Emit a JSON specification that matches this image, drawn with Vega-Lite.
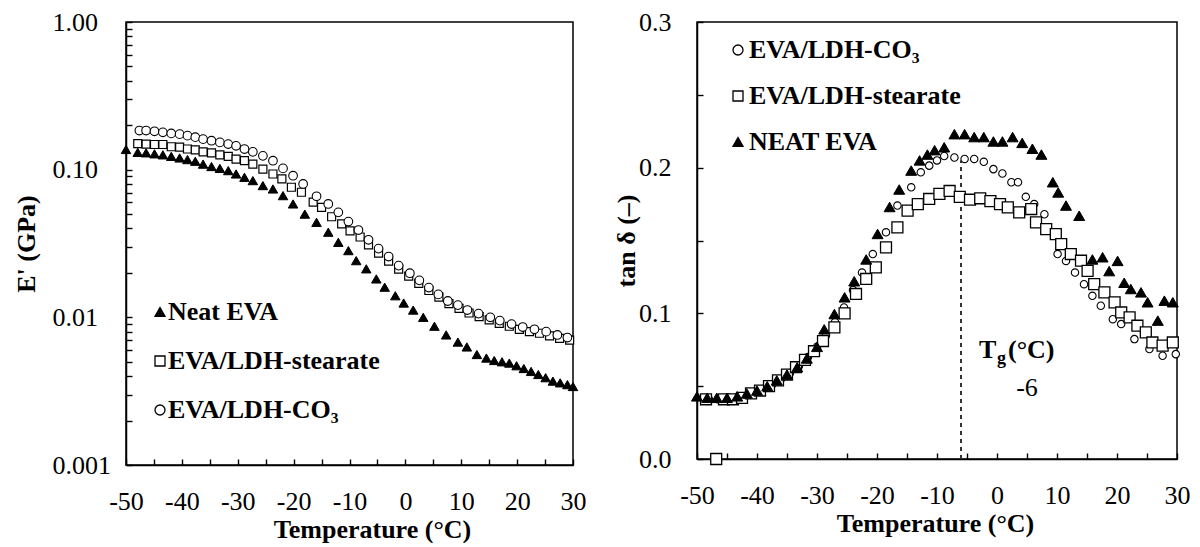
{
  "$schema": "https://vega.github.io/schema/vega-lite/v6.json",
  "background": "white",
  "padding": {"left": 12, "top": 8, "right": 10, "bottom": 0},
  "bounds": "flush",
  "spacing": 124,
  "config": {
    "font": "Liberation Serif",
    "view": {"stroke": "black", "strokeWidth": 1.5},
    "axis": {
      "domainColor": "black", "domainWidth": 1.5,
      "tickColor": "black", "tickWidth": 1.4, "tickSize": -6,
      "labelFont": "Liberation Serif", "labelFontSize": 26, "labelColor": "black",
      "titleFont": "Liberation Serif", "titleFontSize": 26, "titleFontWeight": "bold", "titleColor": "black",
      "grid": false, "labelFlush": false, "labelOverlap": false
    },
    "legend": {
      "labelFont": "Liberation Serif", "labelFontSize": 26, "labelFontWeight": "bold", "labelColor": "black",
      "labelLimit": 500, "symbolStrokeColor": "black", "symbolStrokeWidth": 1.3, "padding": 0
    },
    "text": {"font": "Liberation Serif", "color": "black"}
  },
  "datasets": {
    "left": [
      {"s": "Neat EVA", "T": -50, "E": 0.137},
      {"s": "Neat EVA", "T": -47.9, "E": 0.131},
      {"s": "Neat EVA", "T": -46.4, "E": 0.130},
      {"s": "Neat EVA", "T": -44.9, "E": 0.128},
      {"s": "Neat EVA", "T": -43.4, "E": 0.126},
      {"s": "Neat EVA", "T": -41.9, "E": 0.123},
      {"s": "Neat EVA", "T": -40.4, "E": 0.120},
      {"s": "Neat EVA", "T": -39.0, "E": 0.117},
      {"s": "Neat EVA", "T": -37.6, "E": 0.114},
      {"s": "Neat EVA", "T": -36.2, "E": 0.109},
      {"s": "Neat EVA", "T": -34.7, "E": 0.105},
      {"s": "Neat EVA", "T": -33.2, "E": 0.102},
      {"s": "Neat EVA", "T": -31.7, "E": 0.0985},
      {"s": "Neat EVA", "T": -30.3, "E": 0.0935},
      {"s": "Neat EVA", "T": -28.8, "E": 0.0888},
      {"s": "Neat EVA", "T": -27.3, "E": 0.0843},
      {"s": "Neat EVA", "T": -25.5, "E": 0.078},
      {"s": "Neat EVA", "T": -23.7, "E": 0.074},
      {"s": "Neat EVA", "T": -21.9, "E": 0.0667},
      {"s": "Neat EVA", "T": -20.1, "E": 0.0586},
      {"s": "Neat EVA", "T": -18.0, "E": 0.050},
      {"s": "Neat EVA", "T": -15.9, "E": 0.044},
      {"s": "Neat EVA", "T": -13.8, "E": 0.0377},
      {"s": "Neat EVA", "T": -12.0, "E": 0.0322},
      {"s": "Neat EVA", "T": -10.2, "E": 0.0283},
      {"s": "Neat EVA", "T": -8.8, "E": 0.0242},
      {"s": "Neat EVA", "T": -7.0, "E": 0.0213},
      {"s": "Neat EVA", "T": -5.2, "E": 0.0182},
      {"s": "Neat EVA", "T": -3.7, "E": 0.0160},
      {"s": "Neat EVA", "T": -1.8, "E": 0.0140},
      {"s": "Neat EVA", "T": -0.3, "E": 0.0125},
      {"s": "Neat EVA", "T": 1.4, "E": 0.0112},
      {"s": "Neat EVA", "T": 3.2, "E": 0.0100},
      {"s": "Neat EVA", "T": 5.2, "E": 0.0087},
      {"s": "Neat EVA", "T": 7.3, "E": 0.0076},
      {"s": "Neat EVA", "T": 9.4, "E": 0.0068},
      {"s": "Neat EVA", "T": 11.0, "E": 0.0063},
      {"s": "Neat EVA", "T": 12.8, "E": 0.0056},
      {"s": "Neat EVA", "T": 14.5, "E": 0.0053},
      {"s": "Neat EVA", "T": 15.9, "E": 0.0051},
      {"s": "Neat EVA", "T": 17.3, "E": 0.0050},
      {"s": "Neat EVA", "T": 18.6, "E": 0.0049},
      {"s": "Neat EVA", "T": 19.9, "E": 0.0047},
      {"s": "Neat EVA", "T": 21.2, "E": 0.0045},
      {"s": "Neat EVA", "T": 22.5, "E": 0.0043},
      {"s": "Neat EVA", "T": 23.8, "E": 0.0041},
      {"s": "Neat EVA", "T": 25.1, "E": 0.0039},
      {"s": "Neat EVA", "T": 26.4, "E": 0.0037},
      {"s": "Neat EVA", "T": 27.7, "E": 0.0036},
      {"s": "Neat EVA", "T": 29.0, "E": 0.0035},
      {"s": "Neat EVA", "T": 30.0, "E": 0.0034},
      {"s": "EVA/LDH-stearate", "T": -47.9, "E": 0.150},
      {"s": "EVA/LDH-stearate", "T": -46.4, "E": 0.149},
      {"s": "EVA/LDH-stearate", "T": -44.9, "E": 0.148},
      {"s": "EVA/LDH-stearate", "T": -43.4, "E": 0.148},
      {"s": "EVA/LDH-stearate", "T": -41.9, "E": 0.143},
      {"s": "EVA/LDH-stearate", "T": -40.4, "E": 0.142},
      {"s": "EVA/LDH-stearate", "T": -39.0, "E": 0.138},
      {"s": "EVA/LDH-stearate", "T": -37.6, "E": 0.136},
      {"s": "EVA/LDH-stearate", "T": -36.2, "E": 0.132},
      {"s": "EVA/LDH-stearate", "T": -34.7, "E": 0.130},
      {"s": "EVA/LDH-stearate", "T": -33.2, "E": 0.126},
      {"s": "EVA/LDH-stearate", "T": -31.7, "E": 0.123},
      {"s": "EVA/LDH-stearate", "T": -30.3, "E": 0.118},
      {"s": "EVA/LDH-stearate", "T": -28.8, "E": 0.115},
      {"s": "EVA/LDH-stearate", "T": -27.3, "E": 0.109},
      {"s": "EVA/LDH-stearate", "T": -25.5, "E": 0.101},
      {"s": "EVA/LDH-stearate", "T": -23.7, "E": 0.0935},
      {"s": "EVA/LDH-stearate", "T": -22.1, "E": 0.0865},
      {"s": "EVA/LDH-stearate", "T": -20.4, "E": 0.076},
      {"s": "EVA/LDH-stearate", "T": -18.6, "E": 0.0703},
      {"s": "EVA/LDH-stearate", "T": -16.5, "E": 0.0602},
      {"s": "EVA/LDH-stearate", "T": -15.0, "E": 0.0556},
      {"s": "EVA/LDH-stearate", "T": -13.2, "E": 0.048},
      {"s": "EVA/LDH-stearate", "T": -11.4, "E": 0.043},
      {"s": "EVA/LDH-stearate", "T": -9.9, "E": 0.0385},
      {"s": "EVA/LDH-stearate", "T": -8.1, "E": 0.035},
      {"s": "EVA/LDH-stearate", "T": -6.6, "E": 0.031},
      {"s": "EVA/LDH-stearate", "T": -4.8, "E": 0.0272},
      {"s": "EVA/LDH-stearate", "T": -3.0, "E": 0.0240},
      {"s": "EVA/LDH-stearate", "T": -1.2, "E": 0.0212},
      {"s": "EVA/LDH-stearate", "T": 0.6, "E": 0.0190},
      {"s": "EVA/LDH-stearate", "T": 2.4, "E": 0.0170},
      {"s": "EVA/LDH-stearate", "T": 4.2, "E": 0.0152},
      {"s": "EVA/LDH-stearate", "T": 6.0, "E": 0.0137},
      {"s": "EVA/LDH-stearate", "T": 7.8, "E": 0.0124},
      {"s": "EVA/LDH-stearate", "T": 9.6, "E": 0.0115},
      {"s": "EVA/LDH-stearate", "T": 11.4, "E": 0.0107},
      {"s": "EVA/LDH-stearate", "T": 13.2, "E": 0.0101},
      {"s": "EVA/LDH-stearate", "T": 15.0, "E": 0.0096},
      {"s": "EVA/LDH-stearate", "T": 16.8, "E": 0.0091},
      {"s": "EVA/LDH-stearate", "T": 18.6, "E": 0.0087},
      {"s": "EVA/LDH-stearate", "T": 20.4, "E": 0.0083},
      {"s": "EVA/LDH-stearate", "T": 22.2, "E": 0.0080},
      {"s": "EVA/LDH-stearate", "T": 24.0, "E": 0.0078},
      {"s": "EVA/LDH-stearate", "T": 25.8, "E": 0.0075},
      {"s": "EVA/LDH-stearate", "T": 27.6, "E": 0.0072},
      {"s": "EVA/LDH-stearate", "T": 29.4, "E": 0.0070},
      {"s": "EVA/LDH-CO₃", "T": -47.6, "E": 0.184},
      {"s": "EVA/LDH-CO₃", "T": -46.4, "E": 0.184},
      {"s": "EVA/LDH-CO₃", "T": -44.9, "E": 0.182},
      {"s": "EVA/LDH-CO₃", "T": -43.4, "E": 0.179},
      {"s": "EVA/LDH-CO₃", "T": -41.9, "E": 0.176},
      {"s": "EVA/LDH-CO₃", "T": -40.4, "E": 0.174},
      {"s": "EVA/LDH-CO₃", "T": -39.0, "E": 0.170},
      {"s": "EVA/LDH-CO₃", "T": -37.6, "E": 0.166},
      {"s": "EVA/LDH-CO₃", "T": -36.2, "E": 0.161},
      {"s": "EVA/LDH-CO₃", "T": -34.7, "E": 0.157},
      {"s": "EVA/LDH-CO₃", "T": -33.2, "E": 0.153},
      {"s": "EVA/LDH-CO₃", "T": -31.7, "E": 0.149},
      {"s": "EVA/LDH-CO₃", "T": -30.3, "E": 0.145},
      {"s": "EVA/LDH-CO₃", "T": -28.8, "E": 0.138},
      {"s": "EVA/LDH-CO₃", "T": -27.3, "E": 0.132},
      {"s": "EVA/LDH-CO₃", "T": -25.5, "E": 0.124},
      {"s": "EVA/LDH-CO₃", "T": -23.7, "E": 0.115},
      {"s": "EVA/LDH-CO₃", "T": -21.9, "E": 0.102},
      {"s": "EVA/LDH-CO₃", "T": -20.1, "E": 0.091},
      {"s": "EVA/LDH-CO₃", "T": -18.3, "E": 0.080},
      {"s": "EVA/LDH-CO₃", "T": -15.9, "E": 0.066},
      {"s": "EVA/LDH-CO₃", "T": -13.8, "E": 0.0586},
      {"s": "EVA/LDH-CO₃", "T": -12.0, "E": 0.0514},
      {"s": "EVA/LDH-CO₃", "T": -10.2, "E": 0.0445},
      {"s": "EVA/LDH-CO₃", "T": -8.4, "E": 0.0390},
      {"s": "EVA/LDH-CO₃", "T": -6.6, "E": 0.0335},
      {"s": "EVA/LDH-CO₃", "T": -4.8, "E": 0.0292},
      {"s": "EVA/LDH-CO₃", "T": -3.0, "E": 0.0258},
      {"s": "EVA/LDH-CO₃", "T": -1.2, "E": 0.0224},
      {"s": "EVA/LDH-CO₃", "T": 0.8, "E": 0.0199},
      {"s": "EVA/LDH-CO₃", "T": 2.5, "E": 0.0178},
      {"s": "EVA/LDH-CO₃", "T": 4.2, "E": 0.0159},
      {"s": "EVA/LDH-CO₃", "T": 5.9, "E": 0.0143},
      {"s": "EVA/LDH-CO₃", "T": 7.6, "E": 0.0129},
      {"s": "EVA/LDH-CO₃", "T": 9.4, "E": 0.0121},
      {"s": "EVA/LDH-CO₃", "T": 11.1, "E": 0.0112},
      {"s": "EVA/LDH-CO₃", "T": 13.1, "E": 0.0106},
      {"s": "EVA/LDH-CO₃", "T": 15.2, "E": 0.0100},
      {"s": "EVA/LDH-CO₃", "T": 16.9, "E": 0.0095},
      {"s": "EVA/LDH-CO₃", "T": 19.0, "E": 0.0090},
      {"s": "EVA/LDH-CO₃", "T": 21.0, "E": 0.0086},
      {"s": "EVA/LDH-CO₃", "T": 23.1, "E": 0.0083},
      {"s": "EVA/LDH-CO₃", "T": 25.2, "E": 0.0080},
      {"s": "EVA/LDH-CO₃", "T": 27.2, "E": 0.0076},
      {"s": "EVA/LDH-CO₃", "T": 29.0, "E": 0.0073}
    ],
    "right": [
      {"s": "NEAT EVA", "T": -50, "tand": 0.043},
      {"s": "NEAT EVA", "T": -48.3, "tand": 0.042},
      {"s": "NEAT EVA", "T": -46.7, "tand": 0.042},
      {"s": "NEAT EVA", "T": -45.0, "tand": 0.042},
      {"s": "NEAT EVA", "T": -43.3, "tand": 0.043},
      {"s": "NEAT EVA", "T": -41.7, "tand": 0.045},
      {"s": "NEAT EVA", "T": -40.0, "tand": 0.047},
      {"s": "NEAT EVA", "T": -38.3, "tand": 0.050},
      {"s": "NEAT EVA", "T": -36.7, "tand": 0.054},
      {"s": "NEAT EVA", "T": -35.0, "tand": 0.058},
      {"s": "NEAT EVA", "T": -33.3, "tand": 0.063},
      {"s": "NEAT EVA", "T": -31.7, "tand": 0.069},
      {"s": "NEAT EVA", "T": -30.0, "tand": 0.077},
      {"s": "NEAT EVA", "T": -28.8, "tand": 0.089},
      {"s": "NEAT EVA", "T": -27.1, "tand": 0.0995},
      {"s": "NEAT EVA", "T": -25.4, "tand": 0.111},
      {"s": "NEAT EVA", "T": -23.8, "tand": 0.122},
      {"s": "NEAT EVA", "T": -21.8, "tand": 0.137},
      {"s": "NEAT EVA", "T": -19.9, "tand": 0.1545},
      {"s": "NEAT EVA", "T": -17.9, "tand": 0.173},
      {"s": "NEAT EVA", "T": -16.3, "tand": 0.185},
      {"s": "NEAT EVA", "T": -14.3, "tand": 0.198},
      {"s": "NEAT EVA", "T": -12.9, "tand": 0.205},
      {"s": "NEAT EVA", "T": -11.6, "tand": 0.209},
      {"s": "NEAT EVA", "T": -10.4, "tand": 0.212},
      {"s": "NEAT EVA", "T": -8.8, "tand": 0.214},
      {"s": "NEAT EVA", "T": -7.1, "tand": 0.223},
      {"s": "NEAT EVA", "T": -5.4, "tand": 0.223},
      {"s": "NEAT EVA", "T": -3.8, "tand": 0.221},
      {"s": "NEAT EVA", "T": -2.2, "tand": 0.221},
      {"s": "NEAT EVA", "T": -0.6, "tand": 0.218},
      {"s": "NEAT EVA", "T": 0.9, "tand": 0.218},
      {"s": "NEAT EVA", "T": 2.6, "tand": 0.221},
      {"s": "NEAT EVA", "T": 4.2, "tand": 0.217},
      {"s": "NEAT EVA", "T": 5.9, "tand": 0.213},
      {"s": "NEAT EVA", "T": 7.4, "tand": 0.209},
      {"s": "NEAT EVA", "T": 9.3, "tand": 0.190},
      {"s": "NEAT EVA", "T": 10.2, "tand": 0.183},
      {"s": "NEAT EVA", "T": 11.5, "tand": 0.174},
      {"s": "NEAT EVA", "T": 13.7, "tand": 0.167},
      {"s": "NEAT EVA", "T": 15.9, "tand": 0.137},
      {"s": "NEAT EVA", "T": 17.6, "tand": 0.1385},
      {"s": "NEAT EVA", "T": 18.7, "tand": 0.129},
      {"s": "NEAT EVA", "T": 20.1, "tand": 0.136},
      {"s": "NEAT EVA", "T": 21.2, "tand": 0.121},
      {"s": "NEAT EVA", "T": 22.3, "tand": 0.1167},
      {"s": "NEAT EVA", "T": 24.0, "tand": 0.1144},
      {"s": "NEAT EVA", "T": 25.1, "tand": 0.1076},
      {"s": "NEAT EVA", "T": 26.8, "tand": 0.095},
      {"s": "NEAT EVA", "T": 27.9, "tand": 0.1087},
      {"s": "NEAT EVA", "T": 29.3, "tand": 0.1076},
      {"s": "EVA/LDH-CO₃", "T": -48.0, "tand": 0.041},
      {"s": "EVA/LDH-CO₃", "T": -46.5, "tand": 0.041},
      {"s": "EVA/LDH-CO₃", "T": -45.0, "tand": 0.041},
      {"s": "EVA/LDH-CO₃", "T": -43.5, "tand": 0.042},
      {"s": "EVA/LDH-CO₃", "T": -42.0, "tand": 0.043},
      {"s": "EVA/LDH-CO₃", "T": -40.5, "tand": 0.045},
      {"s": "EVA/LDH-CO₃", "T": -39.0, "tand": 0.048},
      {"s": "EVA/LDH-CO₃", "T": -37.5, "tand": 0.051},
      {"s": "EVA/LDH-CO₃", "T": -36.0, "tand": 0.055},
      {"s": "EVA/LDH-CO₃", "T": -34.5, "tand": 0.059},
      {"s": "EVA/LDH-CO₃", "T": -33.0, "tand": 0.064},
      {"s": "EVA/LDH-CO₃", "T": -31.5, "tand": 0.070},
      {"s": "EVA/LDH-CO₃", "T": -30.0, "tand": 0.077},
      {"s": "EVA/LDH-CO₃", "T": -28.5, "tand": 0.085},
      {"s": "EVA/LDH-CO₃", "T": -27.0, "tand": 0.094},
      {"s": "EVA/LDH-CO₃", "T": -25.5, "tand": 0.104},
      {"s": "EVA/LDH-CO₃", "T": -24.0, "tand": 0.116},
      {"s": "EVA/LDH-CO₃", "T": -22.5, "tand": 0.128},
      {"s": "EVA/LDH-CO₃", "T": -20.7, "tand": 0.1407},
      {"s": "EVA/LDH-CO₃", "T": -18.5, "tand": 0.1556},
      {"s": "EVA/LDH-CO₃", "T": -16.6, "tand": 0.174},
      {"s": "EVA/LDH-CO₃", "T": -14.3, "tand": 0.1865},
      {"s": "EVA/LDH-CO₃", "T": -12.7, "tand": 0.1968},
      {"s": "EVA/LDH-CO₃", "T": -11.3, "tand": 0.2014},
      {"s": "EVA/LDH-CO₃", "T": -10.0, "tand": 0.205},
      {"s": "EVA/LDH-CO₃", "T": -8.8, "tand": 0.208},
      {"s": "EVA/LDH-CO₃", "T": -7.1, "tand": 0.207},
      {"s": "EVA/LDH-CO₃", "T": -5.4, "tand": 0.206},
      {"s": "EVA/LDH-CO₃", "T": -3.8, "tand": 0.206},
      {"s": "EVA/LDH-CO₃", "T": -2.2, "tand": 0.204},
      {"s": "EVA/LDH-CO₃", "T": -0.6, "tand": 0.199},
      {"s": "EVA/LDH-CO₃", "T": 0.9, "tand": 0.196},
      {"s": "EVA/LDH-CO₃", "T": 2.4, "tand": 0.190},
      {"s": "EVA/LDH-CO₃", "T": 3.5, "tand": 0.190},
      {"s": "EVA/LDH-CO₃", "T": 4.8, "tand": 0.180},
      {"s": "EVA/LDH-CO₃", "T": 6.2, "tand": 0.175},
      {"s": "EVA/LDH-CO₃", "T": 7.9, "tand": 0.168},
      {"s": "EVA/LDH-CO₃", "T": 10.1, "tand": 0.1407},
      {"s": "EVA/LDH-CO₃", "T": 11.5, "tand": 0.136},
      {"s": "EVA/LDH-CO₃", "T": 13.0, "tand": 0.128},
      {"s": "EVA/LDH-CO₃", "T": 14.5, "tand": 0.120},
      {"s": "EVA/LDH-CO₃", "T": 15.9, "tand": 0.112},
      {"s": "EVA/LDH-CO₃", "T": 17.3, "tand": 0.1052},
      {"s": "EVA/LDH-CO₃", "T": 19.3, "tand": 0.096},
      {"s": "EVA/LDH-CO₃", "T": 20.7, "tand": 0.0926},
      {"s": "EVA/LDH-CO₃", "T": 22.9, "tand": 0.0823},
      {"s": "EVA/LDH-CO₃", "T": 25.4, "tand": 0.0755},
      {"s": "EVA/LDH-CO₃", "T": 27.6, "tand": 0.0709},
      {"s": "EVA/LDH-CO₃", "T": 29.8, "tand": 0.072},
      {"s": "EVA/LDH-stearate", "T": -48.5, "tand": 0.041},
      {"s": "EVA/LDH-stearate", "T": -46.8, "tand": 0.0},
      {"s": "EVA/LDH-stearate", "T": -45.5, "tand": 0.041},
      {"s": "EVA/LDH-stearate", "T": -44.0, "tand": 0.041},
      {"s": "EVA/LDH-stearate", "T": -42.5, "tand": 0.042},
      {"s": "EVA/LDH-stearate", "T": -41.0, "tand": 0.045},
      {"s": "EVA/LDH-stearate", "T": -39.5, "tand": 0.047},
      {"s": "EVA/LDH-stearate", "T": -38.0, "tand": 0.050},
      {"s": "EVA/LDH-stearate", "T": -36.5, "tand": 0.054},
      {"s": "EVA/LDH-stearate", "T": -35.0, "tand": 0.058},
      {"s": "EVA/LDH-stearate", "T": -33.5, "tand": 0.063},
      {"s": "EVA/LDH-stearate", "T": -32.0, "tand": 0.068},
      {"s": "EVA/LDH-stearate", "T": -30.5, "tand": 0.074},
      {"s": "EVA/LDH-stearate", "T": -29.0, "tand": 0.081},
      {"s": "EVA/LDH-stearate", "T": -27.1, "tand": 0.0904},
      {"s": "EVA/LDH-stearate", "T": -25.4, "tand": 0.100},
      {"s": "EVA/LDH-stearate", "T": -23.5, "tand": 0.1133},
      {"s": "EVA/LDH-stearate", "T": -21.8, "tand": 0.1236},
      {"s": "EVA/LDH-stearate", "T": -20.2, "tand": 0.1316},
      {"s": "EVA/LDH-stearate", "T": -18.5, "tand": 0.1453},
      {"s": "EVA/LDH-stearate", "T": -16.6, "tand": 0.159},
      {"s": "EVA/LDH-stearate", "T": -14.9, "tand": 0.1705},
      {"s": "EVA/LDH-stearate", "T": -13.2, "tand": 0.175},
      {"s": "EVA/LDH-stearate", "T": -11.3, "tand": 0.1785},
      {"s": "EVA/LDH-stearate", "T": -9.6, "tand": 0.182},
      {"s": "EVA/LDH-stearate", "T": -7.9, "tand": 0.184},
      {"s": "EVA/LDH-stearate", "T": -6.2, "tand": 0.180},
      {"s": "EVA/LDH-stearate", "T": -4.5, "tand": 0.178},
      {"s": "EVA/LDH-stearate", "T": -2.8, "tand": 0.179},
      {"s": "EVA/LDH-stearate", "T": -1.1, "tand": 0.177},
      {"s": "EVA/LDH-stearate", "T": 0.5, "tand": 0.175},
      {"s": "EVA/LDH-stearate", "T": 1.8, "tand": 0.1727},
      {"s": "EVA/LDH-stearate", "T": 3.7, "tand": 0.1693},
      {"s": "EVA/LDH-stearate", "T": 5.7, "tand": 0.1716},
      {"s": "EVA/LDH-stearate", "T": 6.5, "tand": 0.1624},
      {"s": "EVA/LDH-stearate", "T": 8.2, "tand": 0.1578},
      {"s": "EVA/LDH-stearate", "T": 9.8, "tand": 0.1544},
      {"s": "EVA/LDH-stearate", "T": 10.7, "tand": 0.1475},
      {"s": "EVA/LDH-stearate", "T": 12.3, "tand": 0.1407},
      {"s": "EVA/LDH-stearate", "T": 14.0, "tand": 0.1361},
      {"s": "EVA/LDH-stearate", "T": 15.1, "tand": 0.1292},
      {"s": "EVA/LDH-stearate", "T": 16.2, "tand": 0.1201},
      {"s": "EVA/LDH-stearate", "T": 17.9, "tand": 0.1144},
      {"s": "EVA/LDH-stearate", "T": 19.6, "tand": 0.1075},
      {"s": "EVA/LDH-stearate", "T": 20.7, "tand": 0.1006},
      {"s": "EVA/LDH-stearate", "T": 22.1, "tand": 0.0972},
      {"s": "EVA/LDH-stearate", "T": 23.4, "tand": 0.0915},
      {"s": "EVA/LDH-stearate", "T": 24.8, "tand": 0.0869},
      {"s": "EVA/LDH-stearate", "T": 25.9, "tand": 0.080},
      {"s": "EVA/LDH-stearate", "T": 27.6, "tand": 0.0778},
      {"s": "EVA/LDH-stearate", "T": 29.3, "tand": 0.080}
    ]
  },
  "hconcat": [
    {
      "width": 447,
      "height": 443,
      "data": {"name": "left"},
      "encoding": {
        "x": {
          "field": "T", "type": "quantitative",
          "scale": {"domain": [-50, 30], "nice": false, "zero": false},
          "axis": {
            "values": [-50, -45, -40, -35, -30, -25, -20, -15, -10, -5, 0, 5, 10, 15, 20, 25, 30],
            "labelExpr": "datum.value % 10 === 0 ? '' + datum.value : ''",
            "labelPadding": 29,
            "title": "Temperature  (°C)",
            "titleX": 246, "titleY": 72, "titleBaseline": "alphabetic"
          }
        },
        "y": {
          "field": "E", "type": "quantitative",
          "scale": {"type": "log", "domain": [0.001, 1], "nice": false},
          "axis": {
            "values": [0.001, 0.002, 0.003, 0.004, 0.005, 0.006, 0.007, 0.008, 0.009, 0.01, 0.02, 0.03, 0.04, 0.05, 0.06, 0.07, 0.08, 0.09, 0.1, 0.2, 0.3, 0.4, 0.5, 0.6, 0.7, 0.8, 0.9, 1],
            "labelExpr": "datum.value === 1 ? '1.00' : datum.value === 0.1 ? '0.10' : datum.value === 0.01 ? '0.01' : datum.value === 0.001 ? '0.001' : ''",
            "labelAlign": "left",
            "labelPadding": 80,
            "title": "E' (GPa)",
            "titleX": -100, "titleY": 221.5, "titleAngle": -90, "titleBaseline": "middle", "titleAlign": "center"
          }
        },
        "shape": {
          "field": "s", "type": "nominal",
          "scale": {"domain": ["Neat EVA", "EVA/LDH-stearate", "EVA/LDH-CO₃"], "range": ["triangle-up", "square", "circle"]},
          "legend": {"orient": "none", "legendX": 21, "legendY": 277, "title": null, "rowPadding": 23, "labelOffset": -5, "symbolSize": 100}
        },
        "fill": {
          "field": "s", "type": "nominal",
          "scale": {"domain": ["Neat EVA", "EVA/LDH-stearate", "EVA/LDH-CO₃"], "range": ["black", "white", "white"]},
          "legend": {"orient": "none", "legendX": 21, "legendY": 277, "title": null, "rowPadding": 23, "labelOffset": -5, "symbolSize": 100}
        },
        "stroke": {
          "field": "s", "type": "nominal",
          "scale": {"domain": ["Neat EVA", "EVA/LDH-stearate", "EVA/LDH-CO₃"], "range": ["black", "black", "black"]},
          "legend": {"orient": "none", "legendX": 21, "legendY": 277, "title": null, "rowPadding": 23, "labelOffset": -5, "symbolSize": 100}
        }
      },
      "layer": [
        {
          "transform": [{"filter": {"field": "s", "equal": "EVA/LDH-stearate"}}],
          "mark": {"type": "point", "size": 64, "strokeWidth": 1.2, "opacity": 1}
        },
        {
          "transform": [{"filter": {"field": "s", "equal": "EVA/LDH-CO₃"}}],
          "mark": {"type": "point", "size": 75, "strokeWidth": 1.1, "opacity": 1}
        },
        {
          "transform": [{"filter": {"field": "s", "equal": "Neat EVA"}}],
          "mark": {"type": "point", "size": 90, "strokeWidth": 1, "opacity": 1}
        }
      ]
    },
    {
      "width": 480,
      "height": 437,
      "encoding": {
        "x": {
          "field": "T", "type": "quantitative",
          "scale": {"domain": [-50, 30], "nice": false, "zero": false},
          "axis": {
            "values": [-50, -45, -40, -35, -30, -25, -20, -15, -10, -5, 0, 5, 10, 15, 20, 25, 30],
            "labelExpr": "datum.value % 10 === 0 ? '' + datum.value : ''",
            "labelPadding": 29,
            "title": "Temperature  (°C)",
            "titleX": 238, "titleY": 72, "titleBaseline": "alphabetic"
          }
        },
        "y": {
          "field": "tand", "type": "quantitative",
          "scale": {"domain": [0, 0.3], "nice": false},
          "axis": {
            "values": [0, 0.05, 0.1, 0.15, 0.2, 0.25, 0.3],
            "labelExpr": "datum.value === 0 ? '0.0' : datum.value === 0.1 ? '0.1' : datum.value === 0.2 ? '0.2' : datum.value === 0.3 ? '0.3' : ''",
            "labelPadding": 32,
            "title": "tan  δ (–)",
            "titleX": -71, "titleY": 218.5, "titleAngle": -90, "titleBaseline": "middle", "titleAlign": "center"
          }
        }
      },
      "layer": [
        {
          "data": {"values": [{"T": -6, "tand": 0, "tand2": 0.205}]},
          "mark": {"type": "rule", "strokeDash": [4, 4], "strokeWidth": 2, "color": "#333333"},
          "encoding": {"y2": {"field": "tand2"}}
        },
        {
          "data": {"name": "right"},
          "transform": [{"filter": {"field": "s", "equal": "EVA/LDH-CO₃"}}],
          "mark": {"type": "point", "size": 55, "strokeWidth": 1.1, "opacity": 1},
          "encoding": {
            "shape": {
              "field": "s", "type": "nominal",
              "scale": {"domain": ["EVA/LDH-CO₃", "EVA/LDH-stearate", "NEAT EVA"], "range": ["circle", "square", "triangle-up"]},
              "legend": {"orient": "none", "legendX": 28, "legendY": 15, "title": null, "rowPadding": 20, "labelOffset": -2, "symbolSize": 100}
            },
            "fill": {
              "field": "s", "type": "nominal",
              "scale": {"domain": ["EVA/LDH-CO₃", "EVA/LDH-stearate", "NEAT EVA"], "range": ["white", "white", "black"]},
              "legend": {"orient": "none", "legendX": 28, "legendY": 15, "title": null, "rowPadding": 20, "labelOffset": -2, "symbolSize": 100}
            },
            "stroke": {
              "field": "s", "type": "nominal",
              "scale": {"domain": ["EVA/LDH-CO₃", "EVA/LDH-stearate", "NEAT EVA"], "range": ["black", "black", "black"]},
              "legend": {"orient": "none", "legendX": 28, "legendY": 15, "title": null, "rowPadding": 20, "labelOffset": -2, "symbolSize": 100}
            }
          }
        },
        {
          "data": {"name": "right"},
          "transform": [{"filter": {"field": "s", "equal": "EVA/LDH-stearate"}}],
          "mark": {"type": "point", "size": 120, "strokeWidth": 1.3, "opacity": 1},
          "encoding": {
            "shape": {"field": "s", "type": "nominal"},
            "fill": {"field": "s", "type": "nominal"},
            "stroke": {"field": "s", "type": "nominal"}
          }
        },
        {
          "data": {"name": "right"},
          "transform": [{"filter": {"field": "s", "equal": "NEAT EVA"}}],
          "mark": {"type": "point", "size": 120, "strokeWidth": 1, "opacity": 1},
          "encoding": {
            "shape": {"field": "s", "type": "nominal"},
            "fill": {"field": "s", "type": "nominal"},
            "stroke": {"field": "s", "type": "nominal"}
          }
        },
        {
          "data": {"values": [{"T": -3, "tand": 0.0745}]},
          "layer": [
            {"mark": {"type": "text", "text": "T", "align": "left", "baseline": "middle", "fontSize": 26, "fontWeight": "bold"}},
            {"mark": {"type": "text", "text": "g", "align": "left", "baseline": "middle", "fontSize": 18, "fontWeight": "bold", "dx": 18, "dy": 9}},
            {"mark": {"type": "text", "text": "(°C)", "align": "left", "baseline": "middle", "fontSize": 26, "fontWeight": "bold", "dx": 29}}
          ]
        },
        {
          "data": {"values": [{"T": 5, "tand": 0.049, "t": "-6"}]},
          "mark": {"type": "text", "align": "center", "baseline": "middle", "fontSize": 26},
          "encoding": {"text": {"field": "t"}}
        }
      ]
    }
  ],
  "resolve": {
    "scale": {"shape": "independent", "fill": "independent", "stroke": "independent"},
    "legend": {"shape": "independent", "fill": "independent", "stroke": "independent"}
  }
}
